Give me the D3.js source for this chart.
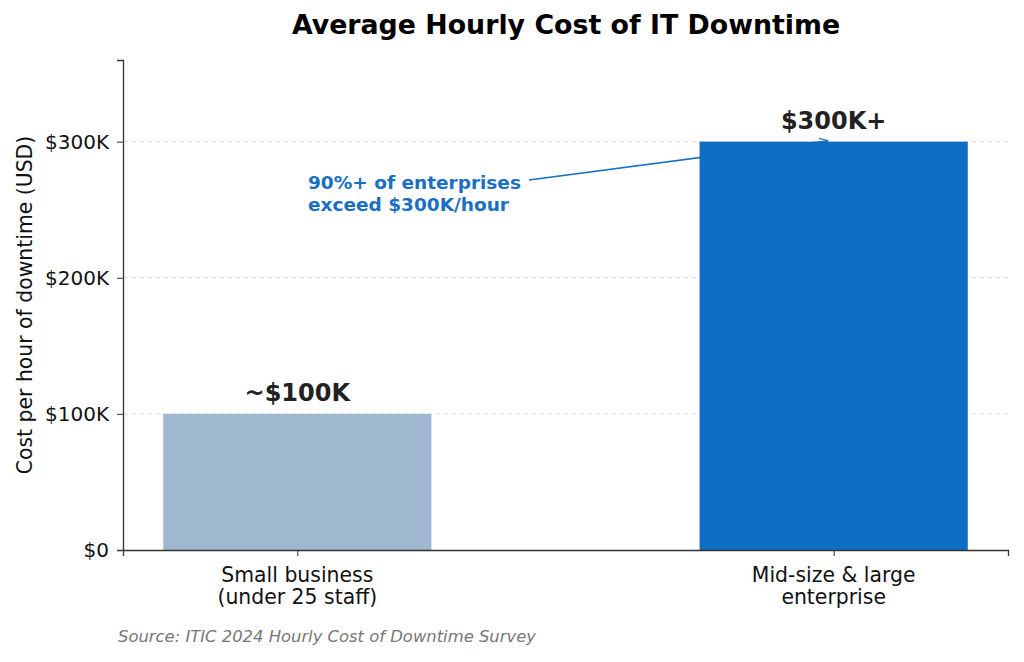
<!DOCTYPE html>
<html>
<head>
<meta charset="utf-8">
<script src="https://cdn.jsdelivr.net/npm/d3@7"></script>
<style>
  body { margin: 0; background: #fff; }
  svg { display: block; font-family: "DejaVu Sans", sans-serif; }
</style>
</head>
<body>
<div id="chart-area"></div>
<script>
// data
var categories = ["Small business\n(under 25 staff)", "Mid-size & large\nenterprise"];
var costs = [100000, 300000];
var valueLabels = ["~$100K", "$300K+"];
var barColors = ["#9fb8cf", "#0f6ec4"];
var yTicks = [0, 100000, 200000, 300000];
var yTickLabels = ["$0", "$100K", "$200K", "$300K"];
var gridValues = [100000, 200000, 300000];

// layout
var svgWidth = 1024, svgHeight = 662;
var margin = { top: 60, left: 123, right: 16, bottom: 112 };
var width = svgWidth - margin.left - margin.right;
var height = svgHeight - margin.top - margin.bottom;

var svg = d3.select("#chart-area").append("svg")
    .attr("width", svgWidth)
    .attr("height", svgHeight);

var graph = svg.append("g")
    .attr("transform", "translate(" + margin.left + "," + margin.top + ")");

// scales: linear x over category index, like matplotlib bar with margins
var barW = 0.5;
var xScale = d3.scaleLinear()
    .domain([-0.325, 1.325])
    .range([0, width]);

var yScale = d3.scaleLinear()
    .domain([0, 360000])
    .range([height, 0]);

// grid
graph.append("g")
    .attr("class", "grid")
    .selectAll("line")
    .data(gridValues)
    .enter()
    .append("line")
    .attr("x1", 0)
    .attr("x2", width)
    .attr("y1", d => yScale(d))
    .attr("y2", d => yScale(d))
    .attr("stroke", "#dddddd")
    .attr("stroke-width", 1)
    .attr("stroke-dasharray", "5,3");

// annotation arrow (drawn under the bars)
var arrowTip = [xScale(0.99), yScale(300000) - 1];
var arrowStart = [406, 120];
svg.append("defs").append("marker")
    .attr("id", "head")
    .attr("viewBox", "0 0 10 10")
    .attr("refX", 10).attr("refY", 5)
    .attr("markerWidth", 9).attr("markerHeight", 9)
    .attr("markerUnits", "userSpaceOnUse")
    .attr("orient", "auto")
    .append("path")
    .attr("d", "M0,1 L10,5 L0,9")
    .attr("fill", "none")
    .attr("stroke", "#1a6fc4")
    .attr("stroke-width", 1.4);

graph.append("line")
    .attr("x1", arrowStart[0])
    .attr("y1", arrowStart[1])
    .attr("x2", arrowTip[0])
    .attr("y2", arrowTip[1])
    .attr("stroke", "#1a6fc4")
    .attr("stroke-width", 1.5)
    .attr("marker-end", "url(#head)");

// bars
graph.append("g")
    .attr("class", "bars")
    .selectAll("rect")
    .data(costs)
    .enter()
    .append("rect")
    .attr("x", (d, i) => xScale(i - barW / 2))
    .attr("width", xScale(barW) - xScale(0))
    .attr("y", d => yScale(d))
    .attr("height", d => height - yScale(d))
    .attr("fill", (d, i) => barColors[i]);

// value labels
graph.append("g")
    .selectAll("text")
    .data(costs)
    .enter()
    .append("text")
    .attr("x", (d, i) => xScale(i))
    .attr("y", d => yScale(d) - 13)
    .attr("text-anchor", "middle")
    .attr("font-size", "24px")
    .attr("font-weight", "bold")
    .attr("fill", "#222")
    .text((d, i) => valueLabels[i]);

// annotation text
var note = graph.append("text")
    .attr("x", 185)
    .attr("y", 129)
    .attr("font-size", "18.5px")
    .attr("font-weight", "bold")
    .attr("fill", "#1a6fc4");
note.append("tspan").attr("x", 185).attr("dy", 0).text("90%+ of enterprises");
note.append("tspan").attr("x", 185).attr("dy", 22).text("exceed $300K/hour");

// y axis
var yAxisCall = d3.axisLeft(yScale)
    .tickValues(yTicks)
    .tickFormat((d, i) => yTickLabels[i])
    .tickSize(6)
    .tickPadding(8);

var yAxis = graph.append("g")
    .attr("class", "y-axis")
    .call(yAxisCall);

// x axis
var xAxisCall = d3.axisBottom(xScale)
    .tickValues([0, 1])
    .tickFormat("")
    .tickSize(6);

var xAxis = graph.append("g")
    .attr("class", "x-axis")
    .attr("transform", "translate(0," + height + ")")
    .call(xAxisCall);

[yAxis, xAxis].forEach(function(ax) {
    ax.select(".domain").attr("stroke", "#333").attr("stroke-width", 1.3);
    ax.selectAll(".tick line").attr("stroke", "#333").attr("stroke-width", 1);
    ax.selectAll(".tick text")
        .attr("font-family", "DejaVu Sans")
        .attr("font-size", "20px")
        .attr("fill", "#111");
});

// x tick labels, two lines each
categories.forEach(function(c, i) {
    var t = graph.append("text")
        .attr("x", xScale(i))
        .attr("y", height + 32)
        .attr("text-anchor", "middle")
        .attr("font-size", "20.4px")
        .attr("fill", "#111");
    c.split("\n").forEach(function(line, j) {
        t.append("tspan")
            .attr("x", xScale(i))
            .attr("dy", j === 0 ? 0 : 22)
            .text(line);
    });
});

// y axis label
graph.append("text")
    .attr("transform", "translate(-91," + height / 2 + ") rotate(-90)")
    .attr("text-anchor", "middle")
    .attr("font-size", "20.4px")
    .attr("fill", "#111")
    .text("Cost per hour of downtime (USD)");

// title
svg.append("text")
    .attr("x", 566)
    .attr("y", 34)
    .attr("text-anchor", "middle")
    .attr("font-size", "26.8px")
    .attr("font-weight", "bold")
    .attr("fill", "#000")
    .text("Average Hourly Cost of IT Downtime");

// source
svg.append("text")
    .attr("x", 118)
    .attr("y", 642)
    .attr("font-size", "16.4px")
    .attr("font-style", "italic")
    .attr("fill", "#777")
    .text("Source: ITIC 2024 Hourly Cost of Downtime Survey");
</script>
</body>
</html>
